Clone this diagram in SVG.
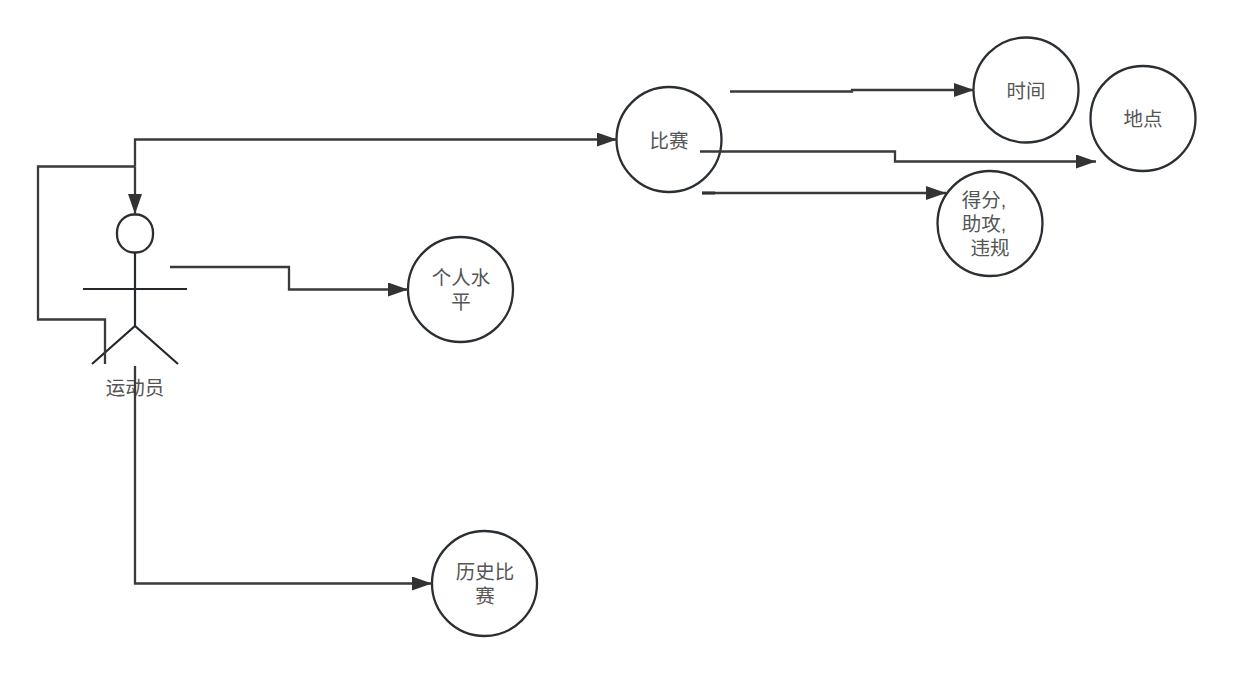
<svg xmlns="http://www.w3.org/2000/svg" width="1233" height="673" viewBox="0 0 1233 673">
<style>
.n{fill:#fff;stroke:#2a2f33;stroke-width:2.300}
.s{fill:none;stroke:#25292d;stroke-width:2.200}
.c{fill:none;stroke:#3a3a3a;stroke-width:2.300}
text{font-family:"Liberation Sans","Noto Sans CJK SC",sans-serif;font-size:19.500px;fill:#555;text-anchor:middle}
</style>
<defs>
<marker id="a" markerUnits="userSpaceOnUse" markerWidth="21" markerHeight="16" refX="20" refY="7" orient="auto"><path d="M0 0L20 7L0 14Z" fill="#333"/></marker>
</defs>
<rect width="1233" height="673" fill="#fff"/>
<g id="actor">
<rect class="n" x="117" y="214.500" width="36" height="38" rx="17" ry="18"/>
<path class="s" d="M135 252.500V326M83 289H187M92 364L135 326L178 364"/>
<text x="135" y="395">运动员</text>
</g>
<g id="n-skill"><circle class="n" cx="460.500" cy="289.500" r="52.500"/><text><tspan x="461" y="285">个人水</tspan><tspan x="461" y="309">平</tspan></text></g>
<g id="n-history"><circle class="n" cx="484.500" cy="583.500" r="52.500"/><text><tspan x="485" y="579">历史比</tspan><tspan x="485" y="603">赛</tspan></text></g>
<g id="n-match"><circle class="n" cx="669" cy="139.500" r="52.500"/><text x="669" y="148">比赛</text></g>
<g id="n-time"><circle class="n" cx="1026" cy="90" r="52.500"/><text x="1026" y="98">时间</text></g>
<g id="n-place"><circle class="n" cx="1143" cy="118.500" r="52.500"/><text x="1143" y="126">地点</text></g>
<g id="n-stats"><circle class="n" cx="990" cy="223.500" r="52.500"/><text><tspan x="984" y="207">得分,</tspan><tspan x="984" y="231">助攻,</tspan><tspan x="990" y="255">违规</tspan></text></g>
<g id="connectors">
<path class="c" d="M135 366V583.500H432" marker-end="url(#a)"/>
<path class="c" d="M105 364V319.500H38V166.500H135"/>
<path class="c" d="M135 166.500V214" marker-end="url(#a)"/>
<path class="c" d="M135 166.500V139.500H617" marker-end="url(#a)"/>
<path class="c" d="M170 267H289V289.500H408" marker-end="url(#a)"/>
<path class="c" d="M730 91.500H852V90H974" marker-end="url(#a)"/>
<path class="c" d="M700 151.500H895V161.500H1096" marker-end="url(#a)"/>
<path class="c" d="M702 193H946" marker-end="url(#a)"/>
<path d="M702 193H715" fill="none" stroke="#333" stroke-width="3"/>
</g>
</svg>
